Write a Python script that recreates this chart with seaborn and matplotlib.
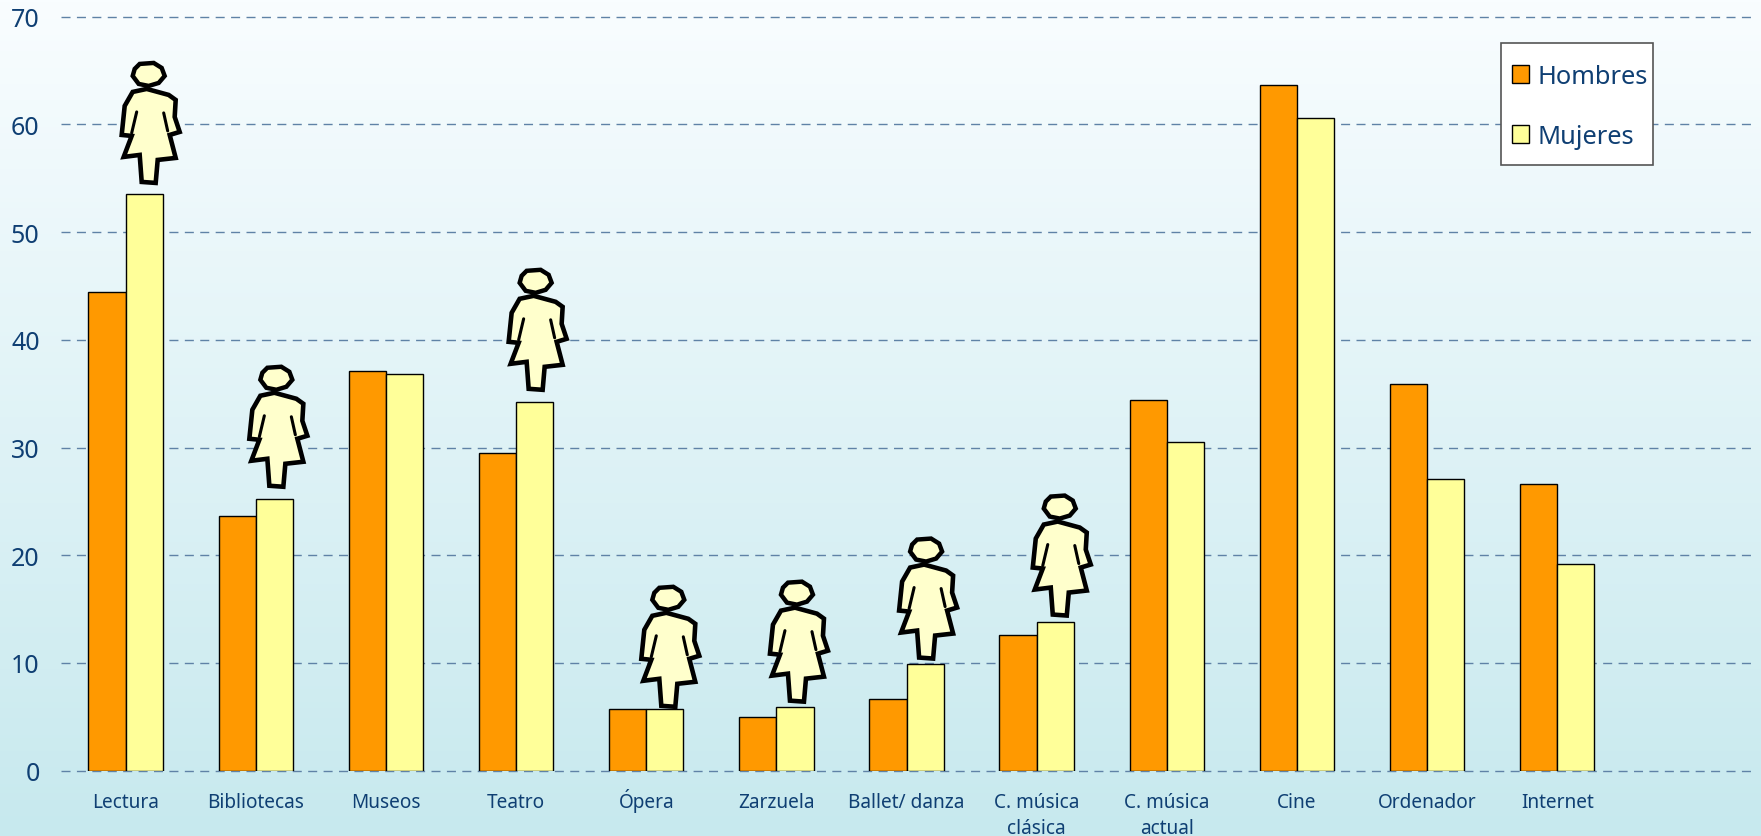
import numpy as np
import pandas as pd
import seaborn as sns
import matplotlib
matplotlib.use("Agg")
import matplotlib.pyplot as plt
from matplotlib.colors import LinearSegmentedColormap
from matplotlib.patches import Polygon, Rectangle
from matplotlib.transforms import Affine2D, ScaledTranslation

categorias = ["Lectura", "Bibliotecas", "Museos", "Teatro", "Ópera", "Zarzuela",
              "Ballet/ danza", "C. música\nclásica", "C. música\nactual", "Cine",
              "Ordenador", "Internet"]
hombres = [44.4, 23.6, 37.1, 29.5, 5.7, 5.0, 6.7, 12.6, 34.4, 63.7, 35.9, 26.6]
mujeres = [53.5, 25.2, 36.8, 34.2, 5.7, 5.9, 9.9, 13.8, 30.5, 60.6, 27.1, 19.2]
y_ticks = [0, 10, 20, 30, 40, 50, 60, 70]

# categories that carry the female clip art, with its pixel offset from the bar top
icono_cats = [0, 1, 3, 4, 5, 6, 7]
icono_dx = [4.5, 2, 1, 3.5, 2, 1, 4.5]
icono_dy = [11.5, 12.5, 12.5, 2.5, 5.5, 5.5, 6.5]

# clip art outline, pixels around the foot of the figure
CUERPO = np.array([(-2, 94), (20, 88), (27, 83), (26, 66), (31, 51), (21, 48), (27, 25),
                   (9, 23), (7, 0), (-7, 1), (-9, 28), (-25, 26), (-17, 47), (-27, 48),
                   (-24, 77), (-16, 91)])
CABEZA = np.array([(-9, 119), (5, 120), (13, 115), (16, 107), (10, 100), (0, 97),
                   (-10, 99), (-16, 107), (-14, 114)])
BRAZOS = [np.array([(-12, 71), (-17, 50)]), np.array([(15, 70), (19, 52)])]

TEXTO = "#0F3F73"
NARANJA = "#FF9900"
AMARILLO = "#FFFF99"
CREMA = "#FFFFCC"
REJILLA = "#5F82A6"

df = pd.DataFrame({
    "categoria": categorias * 2,
    "valor": hombres + mujeres,
    "sexo": ["Hombres"] * len(hombres) + ["Mujeres"] * len(mujeres),
})

sns.set_theme(style="white")
plt.rcParams["font.family"] = ["Noto Sans", "DejaVu Sans"]

W, H = 1761, 837
X0, X1, Y0, Y1 = 60.5, 1752.5, 771.7, 17.7
fig = plt.figure(figsize=(W / 100, H / 100), dpi=100)

# background gradient
bg = fig.add_axes([0, 0, 1, 1], zorder=0)
cmap = LinearSegmentedColormap.from_list("fondo", ["#F9FDFF", "#C7E9EE"])
bg.imshow(np.linspace(0, 1, 256).reshape(-1, 1), aspect="auto", cmap=cmap)
bg.axis("off")

ax = fig.add_axes([X0 / W, 1 - Y0 / H, (X1 - X0) / W, (Y0 - Y1) / H], zorder=1)
ax.patch.set_alpha(0)

ancho = 0.572
sns.barplot(data=df, x="categoria", y="valor", hue="sexo", order=categorias,
            palette={"Hombres": NARANJA, "Mujeres": AMARILLO},
            width=ancho, gap=0, edgecolor="black", linewidth=1.0,
            saturation=1, ax=ax)

ax.set_xlim(-0.5, 12.5)
ax.set_ylim(0, 70)
ax.set_xlabel("")
ax.set_ylabel("")
ax.set_yticks(y_ticks)
ax.set_xticks(range(len(categorias)))
ax.set_xticklabels(categorias, fontsize=13.7, color=TEXTO, linespacing=1.39, va="baseline")
ax.tick_params(axis="x", length=0, pad=26)
ax.tick_params(axis="y", length=0, pad=15, labelsize=18, labelcolor=TEXTO)
ax.grid(axis="y", color=REJILLA, linewidth=1.0, linestyle=(0, (6.5, 4.6)), clip_on=False)
ax.set_axisbelow(True)
sns.despine(ax=ax, left=True, bottom=True)

# va=baseline goes by the last line, so two-line labels have to move down one line
bajar = ScaledTranslation(0, -0.26, fig.dpi_scale_trans)
for label in ax.get_xticklabels():
    if "\n" in label.get_text():
        label.set_transform(label.get_transform() + bajar)

# clip art on top of the Mujeres bars
for i, dx, dy in zip(icono_cats, icono_dx, icono_dy):
    base = ScaledTranslation(i + ancho / 4, mujeres[i], ax.transData)
    tr = Affine2D().translate(dx, dy) + base
    ax.add_patch(Polygon(CUERPO, closed=True, facecolor=CREMA, edgecolor="black",
                         linewidth=3.3, joinstyle="miter", transform=tr, clip_on=False, zorder=5))
    ax.add_patch(Polygon(CABEZA, closed=True, facecolor=CREMA, edgecolor="black",
                         linewidth=3.2, joinstyle="miter", transform=tr, clip_on=False, zorder=5))
    for brazo in BRAZOS:
        ax.plot(brazo[:, 0], brazo[:, 1], color="black", linewidth=2.2, transform=tr,
                clip_on=False, zorder=6)


def ax_frac(px, py):
    return (px - X0) / (X1 - X0), (Y0 - py) / (Y0 - Y1)


# legend box is drawn apart so its padding can differ per side
bx0, by0 = ax_frac(1500.7, 165.7)
bx1, by1 = ax_frac(1652.7, 43.7)
ax.add_patch(Rectangle((bx0, by0), bx1 - bx0, by1 - by0, transform=ax.transAxes, facecolor="white",
                       edgecolor="#555555", linewidth=1.2, zorder=9, clip_on=False))
leg = ax.legend(loc="upper left", bbox_to_anchor=ax_frac(1512, 65),
                borderaxespad=0, borderpad=0, fontsize=18.3, labelcolor=TEXTO, frameon=False,
                handlelength=0.68, handleheight=0.68, handletextpad=0.32, labelspacing=1.37)
leg.set_zorder(10)

fig.savefig("out.png", dpi=100)
